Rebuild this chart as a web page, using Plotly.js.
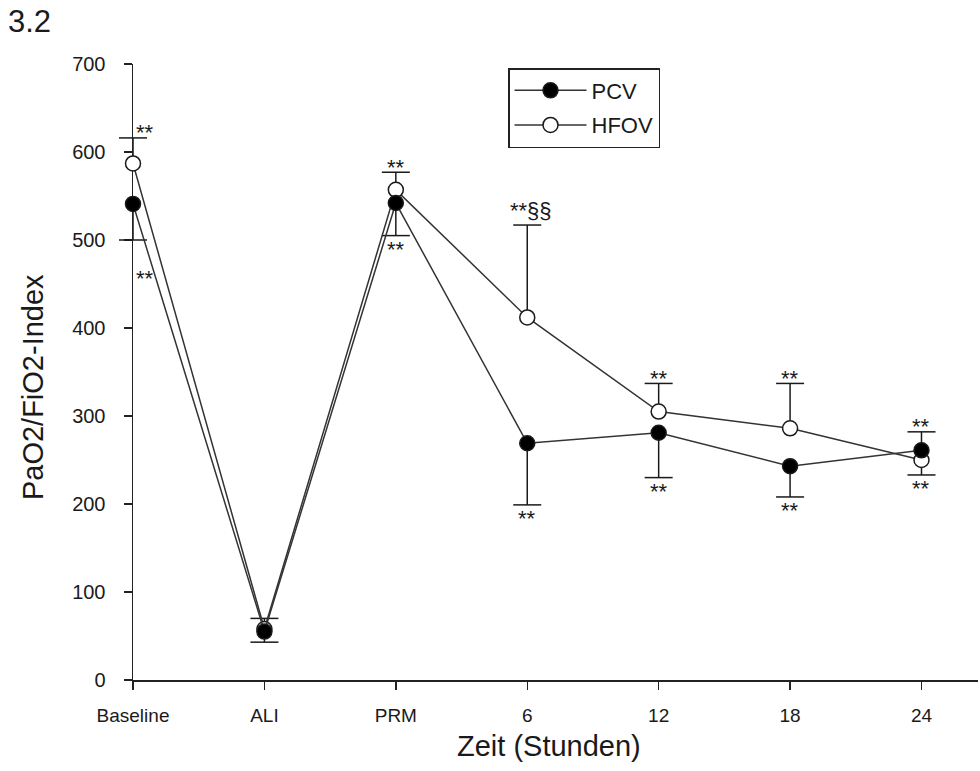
<!DOCTYPE html>
<html>
<head>
<meta charset="utf-8">
<script src="https://cdn.plot.ly/plotly-3.0.1.min.js"></script>
<style>html,body{margin:0;padding:0;background:#fff;}#chart{width:980px;height:771px;}</style>
</head>
<body>
<div id="chart"></div>
<script>
// ---- data ----
const categories = ['Baseline', 'ALI', 'PRM', '6', '12', '18', '24'];
const pcvValues   = [541, 55, 542, 269, 281, 243, 261];
const pcvErrUp    = [0, 0, 0, 0, 0, 0, 21];
const pcvErrDown  = [41, 12, 37, 70, 51, 35, 0];
const hfovValues  = [587, 58, 557, 412, 305, 286, 250];
const hfovErrUp   = [29, 12, 20, 105, 32, 51, 0];
const hfovErrDown = [0, 0, 0, 0, 0, 0, 17];
const starsAbove  = ['**', '', '**', '**§§', '**', '**', '**'];
const starsBelow  = ['**', '', '**', '**', '**', '**', '**'];

const FONT = 'Liberation Sans, Arial, sans-serif';
const INK = '#1a1a1a';
const xIdx = categories.map((c, i) => i);

function capTrace(vals, up, down) {
  const xs = [], ys = [];
  vals.forEach((v, i) => {
    if (up[i] > 0) { xs.push(i); ys.push(v + up[i]); }
    if (down[i] > 0) { xs.push(i); ys.push(v - down[i]); }
  });
  return {
    x: xs, y: ys, mode: 'markers', type: 'scatter', showlegend: false, hoverinfo: 'skip',
    cliponaxis: false,
    marker: {symbol: 'line-ew', size: 20, line: {width: 1.5, color: INK}}
  };
}

function mainTrace(name, vals, up, down, fill, rank) {
  return {
    name: name, x: xIdx, y: vals, type: 'scatter', mode: 'lines+markers',
    cliponaxis: false, legendrank: rank, legendgroup: name,
    line: {color: '#333', width: 1.5},
    marker: {size: 15, color: fill, line: {color: INK, width: 1.5}},
    error_y: {type: 'data', symmetric: false, array: up, arrayminus: down,
              color: INK, thickness: 1.5, width: 0}
  };
}

const traces = [
  capTrace(hfovValues, hfovErrUp, hfovErrDown),
  capTrace(pcvValues, pcvErrUp, pcvErrDown),
  mainTrace('HFOV', hfovValues, hfovErrUp, hfovErrDown, '#ffffff', 2),
  mainTrace('PCV', pcvValues, pcvErrUp, pcvErrDown, '#000000', 1)
];

const annotations = [];
categories.forEach((c, i) => {
  const tops = [pcvValues[i] + pcvErrUp[i], hfovValues[i] + hfovErrUp[i]];
  const bots = [pcvValues[i] - pcvErrDown[i], hfovValues[i] - hfovErrDown[i]];
  const top = Math.max(...tops), bot = Math.min(...bots);
  const xs = i === 0 ? 12 : 0;
  if (starsAbove[i]) {
    const special = starsAbove[i].length > 2;
    annotations.push({
      x: i, y: top, xref: 'x', yref: 'y', text: starsAbove[i], showarrow: false,
      xanchor: 'center', yanchor: special ? 'bottom' : 'middle',
      xshift: special ? 4 : xs, yshift: special ? 0 : 5,
      font: {family: FONT, size: 22, color: INK}
    });
  }
  if (starsBelow[i]) {
    annotations.push({
      x: i, y: bot, xref: 'x', yref: 'y', text: starsBelow[i], showarrow: false,
      xanchor: 'center', yanchor: 'middle', xshift: xs, yshift: i === 0 ? -38 : -14,
      font: {family: FONT, size: 22, color: INK}
    });
  }
});
annotations.push(
  {text: '3.2', xref: 'paper', yref: 'paper', x: -0.1219, y: 1.0698, showarrow: false,
   xanchor: 'center', yanchor: 'middle', font: {family: FONT, size: 31, color: INK}},
  {text: 'PaO2/FiO2-Index', xref: 'paper', yref: 'paper', x: -0.1183, y: 0.4756, showarrow: false,
   textangle: -90, xanchor: 'center', yanchor: 'middle', font: {family: FONT, size: 29, color: INK}},
  {text: 'Zeit (Stunden)', xref: 'paper', yref: 'paper', x: 0.4923, y: -0.1071, showarrow: false,
   xanchor: 'center', yanchor: 'middle', font: {family: FONT, size: 29, color: INK}}
);

const layout = {
  width: 980, height: 771,
  margin: {l: 133, r: 2, t: 64, b: 91, pad: 0},
  paper_bgcolor: '#ffffff', plot_bgcolor: '#ffffff',
  font: {family: FONT, color: INK},
  showlegend: true,
  legend: {
    x: 0.4438, y: 0.9935, xanchor: 'left', yanchor: 'top',
    bgcolor: '#ffffff', bordercolor: '#222', borderwidth: 1.5,
    font: {family: FONT, size: 22, color: INK},
    itemwidth: 72, tracegroupgap: 3, traceorder: 'grouped'
  },
  xaxis: {
    range: [0, 6.43], tickvals: xIdx, ticktext: categories,
    showline: true, linecolor: '#222', linewidth: 1.5,
    ticks: 'outside', ticklen: 8, tickwidth: 1.5, tickcolor: '#222',
    showgrid: false, zeroline: false, layer: 'below traces',
    tickfont: {family: FONT, size: 19, color: INK}, ticklabelstandoff: 10
  },
  yaxis: {
    range: [0, 700], tickvals: [0, 100, 200, 300, 400, 500, 600, 700],
    showline: true, linecolor: '#222', linewidth: 1.5,
    ticks: 'outside', ticklen: 8, tickwidth: 1.5, tickcolor: '#222',
    showgrid: false, zeroline: false, layer: 'below traces',
    tickfont: {family: FONT, size: 20, color: INK}, ticklabelstandoff: 14
  },
  annotations: annotations
};

Plotly.newPlot('chart', traces, layout, {displayModeBar: false, staticPlot: true});
</script>
</body>
</html>
